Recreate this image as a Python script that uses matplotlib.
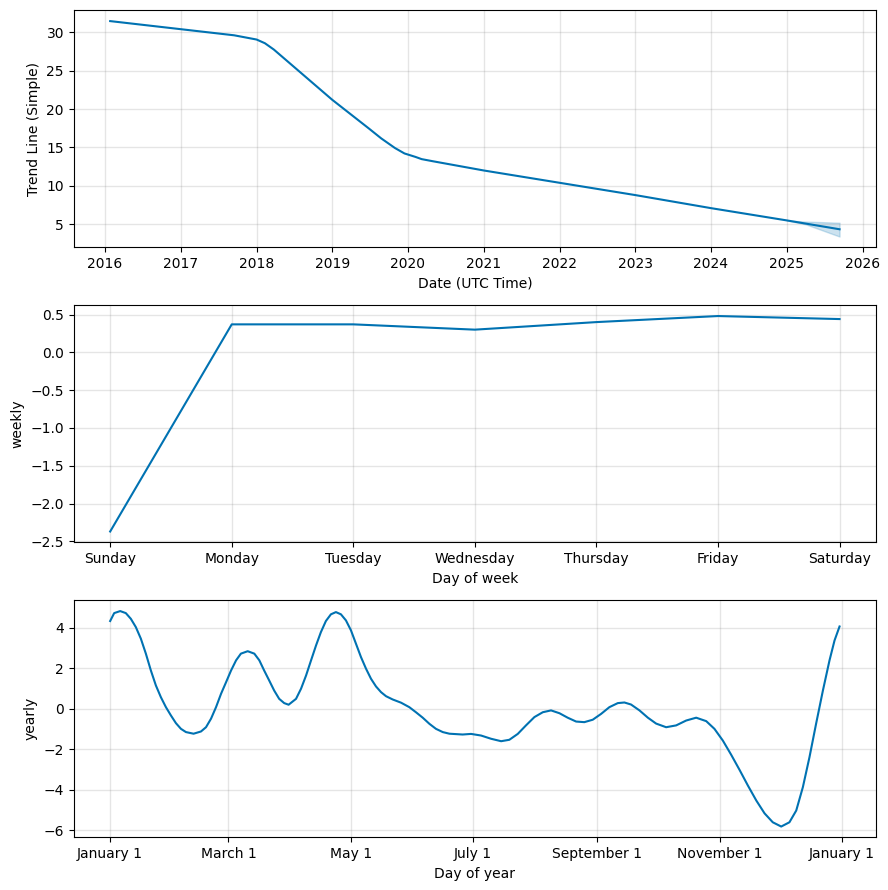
import pandas as pd
import numpy as np
import matplotlib
matplotlib.use("Agg")
import matplotlib.pyplot as plt
import matplotlib.dates as mdates
from matplotlib.ticker import FuncFormatter

# Trend component
trend_dates = ["2016-01-26", "2017-09-15", "2018-01-01", "2018-02-10", "2018-03-25",
               "2019-01-01", "2019-06-25", "2019-08-25", "2019-10-30", "2019-12-15",
               "2020-02-06", "2020-03-07", "2020-05-01", "2021-01-01", "2022-01-01",
               "2023-01-01", "2024-01-01", "2025-01-01", "2025-09-12"]
trend_vals = [31.45, 29.6, 29.05, 28.57, 27.75,
              21.2, 17.5, 16.18, 14.93, 14.22,
              13.77, 13.48, 13.2, 12.0, 10.4,
              8.8, 7.1, 5.5, 4.35]

# Uncertainty band of the forecast part
band_dates = ["2025-01-01", "2025-04-01", "2025-09-12"]
band_lower = [5.5, 5.0, 3.4]
band_upper = [5.5, 5.35, 5.2]

# Weekly seasonality
week_days = ["Sunday", "Monday", "Tuesday", "Wednesday", "Thursday", "Friday", "Saturday"]
weekly_vals = [-2.37, 0.37, 0.37, 0.30, 0.40, 0.48, 0.44]

# Yearly seasonality (day of year, value)
year_days = [0, 2.0, 5.0, 7.8, 10.3, 12.8, 15.3, 17.8, 20.3, 22.8, 25.3, 27.8, 30.3,
             32.8, 35.3, 37.8, 41.6, 45.3, 47.8, 50.3, 52.8, 55.3, 57.8, 60.3, 62.8,
             65.2, 68.6, 71.9, 74.4, 76.8, 79.3, 81.8, 84.3, 86.8, 89.0,
             92.7, 95.2, 97.7, 100.2, 102.7, 105.1, 107.6, 110.1, 112.6, 115.1, 117.6,
             120.1, 122.6, 125.1, 127.6, 130.1, 132.6, 135.1, 137.6, 140.9, 145.1, 149.2,
             152.5, 155.9, 159.2, 162.5, 165.9, 169.2, 175.8,
             180, 185, 190, 195, 199.1, 203.3, 207.4, 211.6, 215.8, 219.9, 224.1, 228.2,
             232.4, 236.5, 240.7, 244.9, 249, 253.2, 256.5, 259.8, 264, 268.2,
             272.3, 277.3, 282.3, 287.3, 292.3, 297.3, 301.4, 305.6, 309.7, 313.9, 318.1,
             322.3, 326.4, 330.5, 334.7, 338.8, 342.2, 345.5, 348.8, 352.1, 355.5, 358.8,
             361.3, 363.8]
yearly_vals = [4.33, 4.72, 4.82, 4.72, 4.44, 4.03, 3.46, 2.72, 1.89, 1.15, 0.57, 0.08, -0.33,
               -0.71, -0.99, -1.15, -1.23, -1.12, -0.91, -0.49, 0.08, 0.74, 1.31, 1.89, 2.39,
               2.72, 2.84, 2.72, 2.39, 1.89, 1.40, 0.90, 0.49, 0.28, 0.20,
               0.49, 0.99, 1.64, 2.39, 3.13, 3.78, 4.33, 4.66, 4.77, 4.66, 4.36,
               3.87, 3.21, 2.55, 1.98, 1.48, 1.10, 0.82, 0.62, 0.46, 0.30, 0.08,
               -0.17, -0.44, -0.74, -0.99, -1.15, -1.23, -1.27,
               -1.24, -1.32, -1.48, -1.60, -1.53, -1.24, -0.82, -0.41, -0.17, -0.08, -0.22, -0.44,
               -0.63, -0.66, -0.54, -0.25, 0.08, 0.28, 0.31, 0.21, -0.08, -0.44,
               -0.73, -0.91, -0.82, -0.58, -0.44, -0.61, -0.99, -1.57, -2.26, -3.01, -3.79,
               -4.53, -5.16, -5.60, -5.81, -5.60, -5.02, -3.87, -2.39, -0.74, 0.90, 2.39,
               3.37, 4.06]

line_c = "#0072B2"

fig = plt.figure(figsize=(8.88, 8.9), dpi=100)
left, width, height = 0.083, 0.9035, 0.2663
ax1 = fig.add_axes([left, 0.7221, width, height])
ax2 = fig.add_axes([left, 0.3907, width, height])
ax3 = fig.add_axes([left, 0.0592, width, height])

# Trend
ax1.plot(pd.to_datetime(trend_dates), trend_vals, ls="-", c=line_c)
ax1.fill_between(pd.to_datetime(band_dates), band_lower, band_upper, color=line_c, alpha=0.2)
ax1.xaxis.set_major_locator(mdates.YearLocator())
ax1.xaxis.set_major_formatter(mdates.DateFormatter("%Y"))
ax1.set_xlabel("Date (UTC Time)")
ax1.set_ylabel("Trend Line (Simple)")

# Weekly
ax2.plot(range(len(week_days)), weekly_vals, ls="-", c=line_c)
ax2.set_xticks(range(len(week_days)))
ax2.set_xticklabels(week_days)
ax2.set_xlabel("Day of week")
ax2.set_ylabel("weekly")

# Yearly
ydates = pd.Timestamp("2017-01-01") + pd.to_timedelta(year_days, unit="D")
ax3.plot(ydates, yearly_vals, ls="-", c=line_c)
ax3.xaxis.set_major_locator(mdates.MonthLocator(bymonth=range(1, 13, 2), bymonthday=1))
ax3.xaxis.set_major_formatter(FuncFormatter(lambda x, pos=None: "{dt:%B} {dt.day}".format(dt=mdates.num2date(x))))
ax3.set_xlabel("Day of year")
ax3.set_ylabel("yearly")

for ax in (ax1, ax2, ax3):
    ax.grid(True, which="major", c="gray", ls="-", lw=1, alpha=0.2)

fig.savefig("out.png", dpi=100)
